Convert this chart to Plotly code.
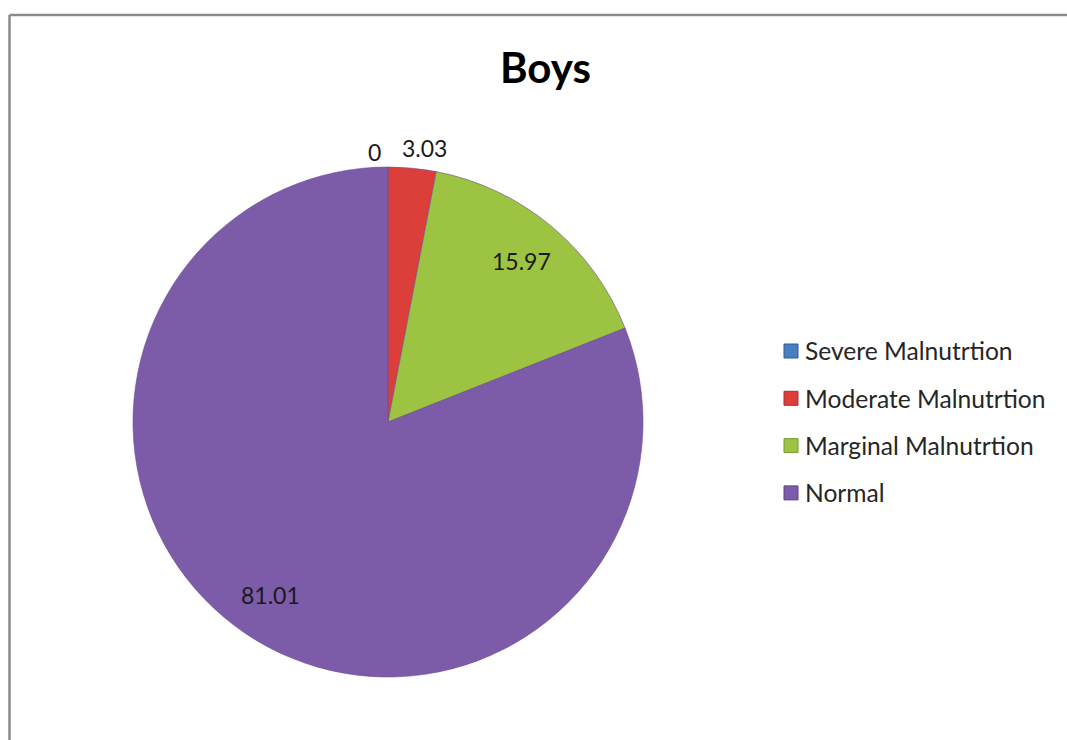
import math
import plotly.graph_objects as go

# Nutrition status of boys (percent)
categories = ["Severe Malnutrtion", "Moderate Malnutrtion", "Marginal Malnutrtion", "Normal"]
values = [0, 3.03, 15.97, 81.01]
value_labels = ["0", "3.03", "15.97", "81.01"]
colors = ["#4A7EC2", "#DC3F3A", "#9CC341", "#7C5BA8"]
edge_colors = ["#2F5C94", "#A8302C", "#7A9A30", "#5E4385"]

W, H = 1067, 740
# pie geometry in pixels
CX, CY, R = 388, 422, 255

fig = go.Figure()
fig.add_trace(go.Pie(
    labels=categories,
    values=values,
    sort=False,
    direction="clockwise",
    rotation=0,
    textinfo="none",
    hoverinfo="label+value",
    showlegend=False,
    marker=dict(colors=colors, line=dict(color="#6A4E92", width=0.6)),
    domain=dict(x=[(CX - R) / W, (CX + R) / W], y=[1 - (CY + R) / H, 1 - (CY - R) / H]),
))

LABEL_FONT = dict(family="Lato", size=23, color="#1a1a1a")

# data labels placed at each slice's mid-angle; thin slices get their label outside
total = sum(values)
annotations = []
cum = 0.0
for v, txt in zip(values, value_labels):
    mid = (cum + v / 2) / total * 2 * math.pi
    cum += v
    frac = v / total
    if frac < 0.05:
        r = R + 8
        xshift = -14 if v == 0 else 12
        yshift = 7 if v == 0 else 12
    else:
        r = R * 0.82
        xshift = yshift = 0
    px = CX + r * math.sin(mid)
    py = CY - r * math.cos(mid)
    annotations.append(dict(
        x=px / W, y=1 - py / H, xref="paper", yref="paper",
        text=txt, showarrow=False, xanchor="center", yanchor="middle",
        xshift=xshift, yshift=yshift, font=LABEL_FONT,
    ))

# legend: colored squares with category names
shapes = []
LEG_X, LEG_Y0, LEG_DY, SQ = 784, 351, 47.3, 14
for i, (name, c, ec) in enumerate(zip(categories, colors, edge_colors)):
    yc = LEG_Y0 + i * LEG_DY
    shapes.append(dict(
        type="rect", xref="paper", yref="paper",
        x0=LEG_X / W, x1=(LEG_X + SQ) / W,
        y0=1 - (yc + SQ / 2) / H, y1=1 - (yc - SQ / 2) / H,
        fillcolor=c, line=dict(color=ec, width=1),
    ))
    annotations.append(dict(
        x=(LEG_X + SQ + 5) / W, y=1 - yc / H, xref="paper", yref="paper",
        text=name, showarrow=False, xanchor="left", yanchor="middle",
        font=dict(family="Lato", size=24.6, color="#262626"),
    ))

# chart-area frame
shapes.append(dict(type="line", xref="paper", yref="paper",
                   x0=9.5 / W, x1=1.0, y0=1 - 15 / H, y1=1 - 15 / H,
                   line=dict(color="#8a8a8a", width=2.5)))
shapes.append(dict(type="line", xref="paper", yref="paper",
                   x0=9.5 / W, x1=9.5 / W, y0=0, y1=1 - 15 / H,
                   line=dict(color="#8a8a8a", width=2.5)))

# title
annotations.append(dict(
    x=545 / W, y=1 - 67 / H, xref="paper", yref="paper",
    text="<b>Boys</b>", showarrow=False, xanchor="center", yanchor="middle",
    font=dict(family="Lato", size=42, color="#000000"),
))

fig.update_layout(
    width=W, height=H,
    margin=dict(l=0, r=0, t=0, b=0),
    paper_bgcolor="#ffffff",
    plot_bgcolor="#ffffff",
    annotations=annotations,
    shapes=shapes,
)

fig.write_html("out.html")
